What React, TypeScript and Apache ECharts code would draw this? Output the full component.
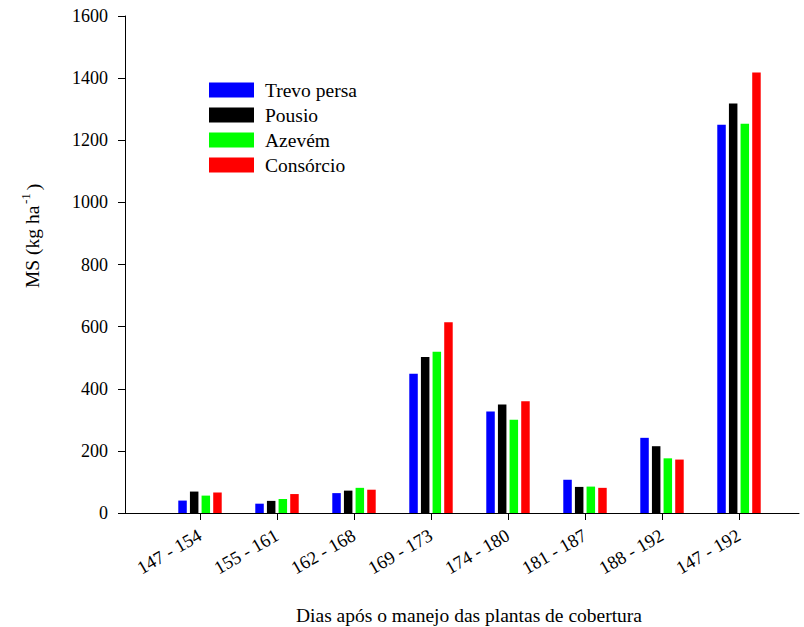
import React, { useEffect, useRef } from "react";
import * as echarts from "echarts";

const categories = ["147 - 154", "155 - 161", "162 - 168", "169 - 173", "174 - 180", "181 - 187", "188 - 192", "147 - 192"];
const seriesNames = ["Trevo persa", "Pousio", "Azevém", "Consórcio"];
const trevoPersa = [40, 30, 64, 448, 327, 107, 242, 1250];
const pousio = [69, 39, 72, 502, 349, 84, 215, 1318];
const azevem = [56, 45, 81, 519, 300, 85, 176, 1253];
const consorcio = [66, 61, 75, 614, 360, 81, 172, 1418];
const colors = ["#0000FF", "#000000", "#00FF00", "#FF0000"];

const FONT = "Liberation Serif";

export default function App() {
  const ref = useRef<HTMLDivElement>(null);
  useEffect(() => {
    if (!ref.current) return;
    const chart = echarts.init(ref.current, undefined, { renderer: "svg" });
    const allSeries = [trevoPersa, pousio, azevem, consorcio];
    const positions = categories.map((_, i) => i + 1);
    chart.setOption({
      animation: false,
      backgroundColor: "#ffffff",
      textStyle: { fontFamily: FONT },
      grid: { left: 125, right: 5, top: 16, bottom: 114, containLabel: false },
      legend: {
        orient: "vertical",
        left: 209,
        top: 80,
        padding: 0,
        itemWidth: 45,
        itemHeight: 15,
        itemGap: 5,
        icon: "rect",
        data: seriesNames,
        textStyle: { fontFamily: FONT, fontSize: 19.5, color: "#000", padding: [0, 0, 0, 6] },
      },
      xAxis: {
        type: "value",
        min: 1 - 75 / 77,
        max: 1 + 599 / 77,
        splitLine: { show: false },
        axisLine: { show: true, lineStyle: { color: "#000", width: 1 } },
        axisTick: { show: true, length: 7, lineStyle: { color: "#000" }, customValues: positions },
        axisLabel: {
          show: true,
          rotate: 30,
          margin: 21,
          fontFamily: FONT,
          fontSize: 18.5,
          color: "#000",
          customValues: positions,
          formatter: (v: number) => categories[Math.round(v) - 1] ?? "",
        },
      },
      yAxis: {
        type: "value",
        min: 0,
        max: 1600,
        interval: 200,
        splitLine: { show: false },
        axisLine: { show: true, lineStyle: { color: "#000", width: 1 } },
        axisTick: { show: true, length: 7, lineStyle: { color: "#000" } },
        axisLabel: {
          margin: 17,
          fontFamily: FONT,
          fontSize: 18,
          color: "#000",
          formatter: (v: number) => String(v),
        },
      },
      series: allSeries.map((vals, si) => ({
        name: seriesNames[si],
        type: "bar",
        barWidth: 8.5,
        barGap: "37%",
        itemStyle: { color: colors[si] },
        data: vals.map((v, i) => [positions[i], v]),
      })),
      graphic: [
        {
          type: "text",
          x: 32,
          y: 288,
          rotation: Math.PI / 2,
          style: { text: "MS (kg ha", fontFamily: FONT, fontSize: 19.5, fill: "#000", align: "left", verticalAlign: "middle" },
        },
        {
          type: "text",
          x: 25,
          y: 204,
          rotation: Math.PI / 2,
          style: { text: "-1", fontFamily: FONT, fontSize: 13, fill: "#000", align: "left", verticalAlign: "middle" },
        },
        {
          type: "text",
          x: 33,
          y: 195,
          rotation: Math.PI / 2,
          style: { text: " )", fontFamily: FONT, fontSize: 19.5, fill: "#000", align: "left", verticalAlign: "middle" },
        },
        {
          type: "text",
          x: 469,
          y: 615,
          style: {
            text: "Dias após o manejo das plantas de cobertura",
            fontFamily: FONT,
            fontSize: 19.5,
            fill: "#000",
            align: "center",
            verticalAlign: "middle",
          },
        },
      ],
    });
    return () => chart.dispose();
  }, []);
  return <div ref={ref} style={{ width: 804, height: 627, position: "absolute", left: 0, top: 0 }} />;
}
